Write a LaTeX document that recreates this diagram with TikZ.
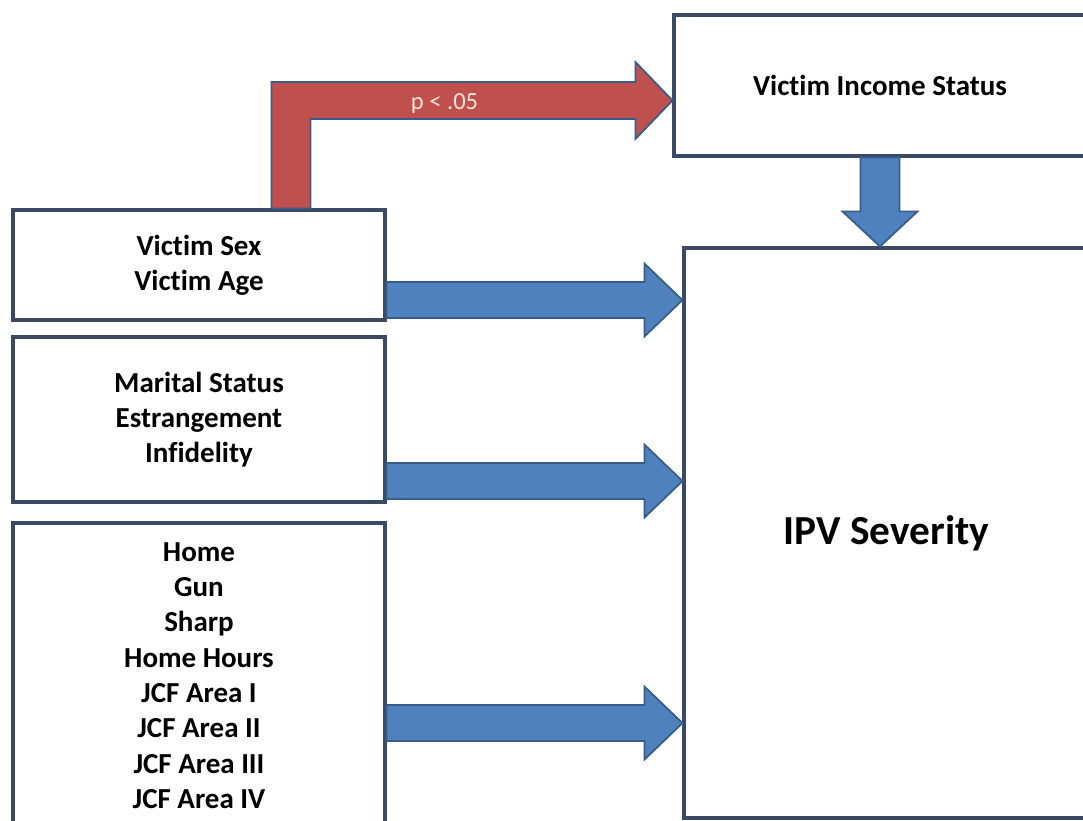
\documentclass[tikz,border=0pt]{standalone}
\usepackage{fontspec}
\setmainfont{Carlito}[Ligatures=NoCommon]
\usetikzlibrary{calc}
\definecolor{arrowblue}{RGB}{79,129,189}
\definecolor{arrowred}{RGB}{192,80,77}
\definecolor{arrowline}{RGB}{56,93,138}
\definecolor{boxline}{RGB}{58,74,100}
\definecolor{plabel}{RGB}{250,228,218}

% horizontal block arrow: box, shift above its south edge, target box
\newcommand{\rightblock}[3]{%
    \draw[bluearrow] let \p1 = ([yshift=#2]#1.south east), \p2 = (#3.west) in
        (\x1,\y1+0.36cm) -- (\x2-0.76cm,\y1+0.36cm) -- (\x2-0.76cm,\y1+0.73cm) -- (\x2,\y1)
        -- (\x2-0.76cm,\y1-0.73cm) -- (\x2-0.76cm,\y1-0.36cm) -- (\x1,\y1-0.36cm) -- cycle;}

\begin{document}
\begin{tikzpicture}[x=0.02cm, y=-0.02cm,
    factor/.style={draw=boxline, line width=1.8pt, fill=white, inner sep=0pt,
        align=center, font=\fontsize{16.5}{20.1}\selectfont\bfseries},
    outcome/.style={factor, font=\fontsize{23.5}{28}\selectfont\bfseries},
    bluearrow/.style={fill=arrowblue, draw=arrowline, line width=1pt, line join=miter},
    redarrow/.style={fill=arrowred, draw=arrowline, line width=1pt, line join=miter}]
    \clip (0,0) rectangle (1083,821);
    \fill[white] (0,0) rectangle (1083,821);

    % predictor boxes
    \node[factor, minimum width=7.44cm, minimum height=2.2cm] (sexage) at (199,265) {Victim Sex\\Victim Age};
    \node[factor, minimum width=7.44cm, minimum height=3.3cm] (marital) at (199,419.5) {Marital Status\\Estrangement\\Infidelity};
    \node[factor, minimum width=7.44cm, minimum height=6.1cm] (place) at (199,675.5)
        {Home\\Gun\\Sharp\\Home Hours\\JCF Area I\\JCF Area II\\JCF Area III\\JCF Area IV};

    % mediator and outcome
    \node[factor, minimum width=8.24cm, minimum height=2.82cm] (income) at (880,85.5) {Victim Income Status};
    \node[outcome, minimum width=8.1cm, minimum height=11.4cm] (ipv) at (886.5,533) {IPV Severity};

    % paths to IPV severity
    \rightblock{sexage}{0.43cm}{ipv}
    \rightblock{marital}{0.45cm}{ipv}
    \rightblock{place}{2.13cm}{ipv}

    \draw[bluearrow] let \p1 = (income.south), \p2 = (ipv.north) in
        (\x1-0.39cm,\y1) -- (\x1-0.39cm,\y2+0.7cm) -- (\x1-0.75cm,\y2+0.7cm) -- (\x1,\y2)
        -- (\x1+0.75cm,\y2+0.7cm) -- (\x1+0.39cm,\y2+0.7cm) -- (\x1+0.39cm,\y1) -- cycle;

    % significant path: sex/age -> income
    \draw[redarrow] let \p1 = ([xshift=5.2cm]sexage.north west), \p2 = ([yshift=-0.3cm]income.west) in
        (\x1,\y1) |- (\x2-0.74cm,\y2+0.37cm) -- (\x2-0.74cm,\y2+0.77cm) -- (\p2)
        -- (\x2-0.74cm,\y2-0.77cm) -- (\x2-0.74cm,\y2-0.37cm) -| (\x1+0.78cm,\y1) -- cycle;
    \node[text=plabel, font=\fontsize{14}{16}\selectfont] (pval) at (444.5,104) {p < .05};
\end{tikzpicture}
\end{document}
